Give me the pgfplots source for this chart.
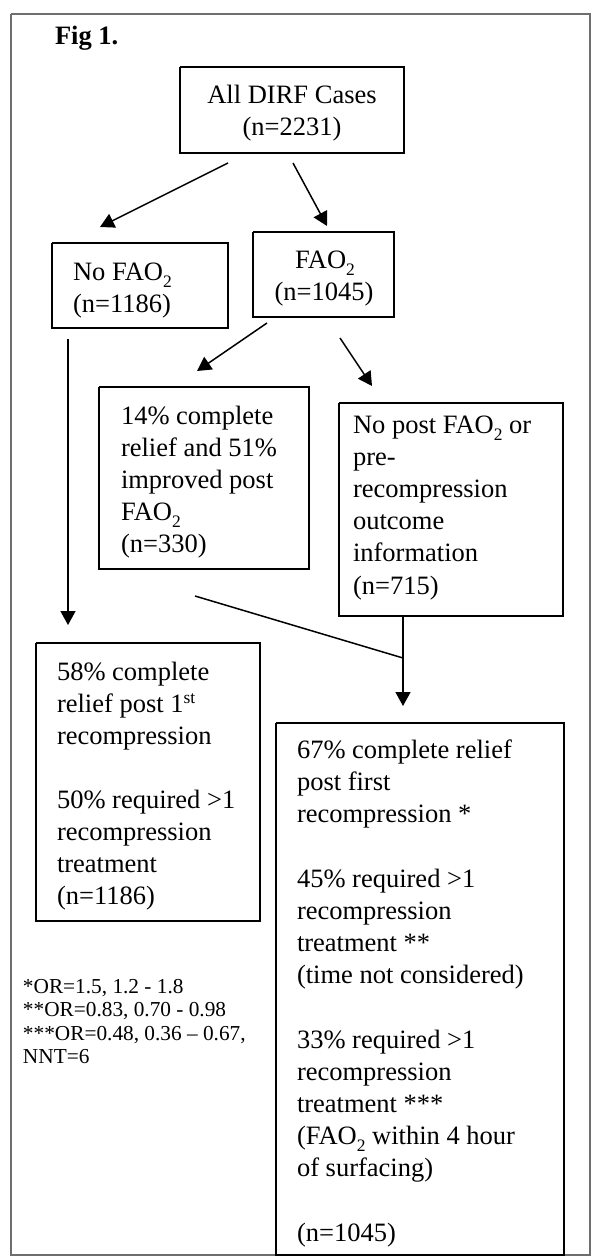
\documentclass[border=0pt]{standalone}
\usepackage{fontspec}
\setmainfont{Liberation Serif}
\usepackage{pgfplots}
\pgfplotsset{compat=1.18}
\usetikzlibrary{arrows.meta}
\definecolor{bordergray}{RGB}{110,110,110}
\newcommand\sub[1]{\raisebox{-7.5pt}{\fontsize{17.5}{18}\selectfont #1}}
\newcommand\sups[1]{\raisebox{9pt}{\fontsize{17.5}{18}\selectfont #1}}
\tikzset{
  txt/.style={anchor=base west, inner sep=0pt, outer sep=0pt, font=\fontsize{26.5}{32}\selectfont},
  ctxt/.style={anchor=base, inner sep=0pt, outer sep=0pt, font=\fontsize{26.5}{32}\selectfont},
  ftxt/.style={anchor=base west, inner sep=0pt, outer sep=0pt, font=\fontsize{21.3}{23}\selectfont},
}
\begin{document}
\begin{tikzpicture}
\begin{axis}[
  width=591pt, height=1256pt, scale only axis,
  at={(0,0)}, anchor=south west,
  xmin=0, xmax=591, ymin=0, ymax=1256, y dir=reverse,
  axis lines=none, clip=false, no markers,
]
% outer frame
\addplot[bordergray, line width=2pt] coordinates {(11,14) (589.5,14) (589.5,1255) (11,1255) (11,14)};
% boxes
\addplot[black, line width=1.8pt] coordinates {(180,67) (404,67) (404,153) (180,153) (180,67)};
\addplot[black, line width=1.8pt] coordinates {(52,243) (228,243) (228,328) (52,328) (52,243)};
\addplot[black, line width=1.8pt] coordinates {(253,232) (394,232) (394,317) (253,317) (253,232)};
\addplot[black, line width=1.8pt] coordinates {(99,387) (309,387) (309,569) (99,569) (99,387)};
\addplot[black, line width=1.8pt] coordinates {(339,403) (563,403) (563,616) (339,616) (339,403)};
\addplot[black, line width=1.8pt] coordinates {(36,643) (260,643) (260,921) (36,921) (36,643)};
\addplot[black, line width=1.8pt] coordinates {(276,723) (564,723) (564,1255) (276,1255) (276,723)};
% arrows
\addplot[black, line width=1.5pt, -{Triangle[length=14pt,width=15pt]}] coordinates {(228,163) (100,227)};
\addplot[black, line width=1.5pt, -{Triangle[length=14pt,width=15pt]}] coordinates {(293,163) (327,226)};
\addplot[black, line width=1.5pt, -{Triangle[length=14pt,width=15pt]}] coordinates {(267,323) (197,371)};
\addplot[black, line width=1.5pt, -{Triangle[length=14pt,width=15pt]}] coordinates {(340,338) (372,386)};
\addplot[black, line width=1.5pt, -{Triangle[length=14pt,width=15pt]}] coordinates {(68,339) (68,625)};
\addplot[black, line width=1.5pt] coordinates {(195,596) (403,658)};
\addplot[black, line width=1.5pt, -{Triangle[length=14pt,width=15pt]}] coordinates {(403,616) (403,706)};
% texts
\node[txt, font=\fontsize{26.5}{32}\selectfont\bfseries] at (axis cs:55,44) {Fig 1.};
\node[ctxt] at (axis cs:292,103) {All DIRF Cases};
\node[ctxt] at (axis cs:292,135) {(n=2231)};
\node[txt] at (axis cs:73,280) {No FAO\sub{2}};
\node[txt] at (axis cs:73,312) {(n=1186)};
\node[ctxt] at (axis cs:325,268) {FAO\sub{2}};
\node[ctxt] at (axis cs:324,300) {(n=1045)};
\node[txt] at (axis cs:121,424) {14\% complete};
\node[txt] at (axis cs:121,456) {relief and 51\%};
\node[txt] at (axis cs:121,488) {improved post};
\node[txt] at (axis cs:121,520) {FAO\sub{2}};
\node[txt] at (axis cs:121,552) {(n=330)};
\node[txt] at (axis cs:353,433) {No post FAO\sub{2} or};
\node[txt] at (axis cs:353,465) {pre-};
\node[txt] at (axis cs:353,497) {recompression};
\node[txt] at (axis cs:353,529) {outcome};
\node[txt] at (axis cs:353,561) {information};
\node[txt] at (axis cs:353,594) {(n=715)};
\node[txt] at (axis cs:57,680) {58\% complete};
\node[txt] at (axis cs:57,712) {relief post 1\sups{st}};
\node[txt] at (axis cs:57,744) {recompression};
\node[txt] at (axis cs:57,808) {50\% required >1};
\node[txt] at (axis cs:57,840) {recompression};
\node[txt] at (axis cs:57,872) {treatment};
\node[txt] at (axis cs:57,904) {(n=1186)};
\node[txt] at (axis cs:297,758) {67\% complete relief};
\node[txt] at (axis cs:297,790) {post first};
\node[txt] at (axis cs:297,822) {recompression *};
\node[txt] at (axis cs:297,887) {45\% required >1};
\node[txt] at (axis cs:297,919) {recompression};
\node[txt] at (axis cs:297,951) {treatment **};
\node[txt] at (axis cs:297,983) {(time not considered)};
\node[txt] at (axis cs:297,1048) {33\% required >1};
\node[txt] at (axis cs:297,1080) {recompression};
\node[txt] at (axis cs:297,1112) {treatment ***};
\node[txt] at (axis cs:297,1144) {(FAO\sub{2} within 4 hour};
\node[txt] at (axis cs:297,1176) {of surfacing)};
\node[txt] at (axis cs:297,1241) {(n=1045)};
\node[ftxt] at (axis cs:23,993) {*OR=1.5, 1.2 - 1.8};
\node[ftxt] at (axis cs:23,1016) {**OR=0.83, 0.70 - 0.98};
\node[ftxt] at (axis cs:23,1040) {***OR=0.48, 0.36 – 0.67,};
\node[ftxt] at (axis cs:23,1063) {NNT=6};
\end{axis}
\pgfresetboundingbox
\path (0,0) rectangle (591pt,1256pt);
\end{tikzpicture}
\end{document}
